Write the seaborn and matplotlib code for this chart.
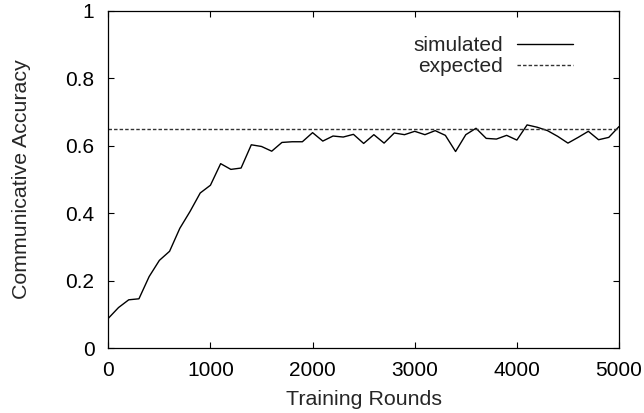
import numpy as np
import pandas as pd
import matplotlib
matplotlib.use("Agg")
import matplotlib.pyplot as plt
import seaborn as sns

rounds = list(range(0, 5001, 100))
simulated = [0.088, 0.120, 0.143, 0.146, 0.212, 0.260, 0.287, 0.355, 0.405, 0.460,
             0.483, 0.547, 0.530, 0.534, 0.603, 0.598, 0.584, 0.610, 0.612, 0.612,
             0.639, 0.614, 0.629, 0.626, 0.634, 0.607, 0.633, 0.608, 0.638, 0.633,
             0.643, 0.633, 0.645, 0.631, 0.583, 0.633, 0.652, 0.622, 0.620, 0.631,
             0.617, 0.662, 0.655, 0.645, 0.628, 0.608, 0.625, 0.643, 0.618, 0.625,
             0.657]
expected = 0.65
x_ticks = [0, 1000, 2000, 3000, 4000, 5000]
y_ticks = [0, 0.2, 0.4, 0.6, 0.8, 1]
y_tick_labels = ["0", "0.2", "0.4", "0.6", "0.8", "1"]

sns.set_theme(style="ticks")
plt.rcParams['font.family'] = ['Liberation Sans', 'DejaVu Sans']

df = pd.DataFrame({"Training Rounds": rounds, "Communicative Accuracy": simulated})

fig = plt.figure(figsize=(6.44, 4.13), dpi=100)
ax = fig.add_axes([108.3 / 644, (413 - 348) / 413, (619 - 108.3) / 644, 337 / 413])

sns.lineplot(data=df, x="Training Rounds", y="Communicative Accuracy", ax=ax,
             color="black", linewidth=1.0, label="simulated")
ax.axhline(expected, color="#333333", linewidth=1.0, dashes=(2.5, 1.5), label="expected")

ax.set_xlim(0, 5000)
ax.set_ylim(0, 1)
ax.set_xticks(x_ticks)
ax.set_yticks(y_ticks)
ax.set_yticklabels(y_tick_labels)
ax.tick_params(direction="in", length=4, width=0.8, top=True, right=True,
               labelsize=15, colors="black")
ax.tick_params(axis="x", pad=9.5)
ax.tick_params(axis="y", pad=10)
for s in ax.spines.values():
    s.set_linewidth(0.9)
    s.set_color("black")
ax.set_xlabel("Training Rounds", fontsize=15.4)
ax.set_ylabel("Communicative Accuracy", fontsize=15.4)
ax.xaxis.set_label_coords(0.5, (348 - 390) / 337)
ax.yaxis.set_label_coords((31 - 108.3) / 510.7, 0.5)

leg = ax.legend(loc="upper right", bbox_to_anchor=((573 - 108.3) / 510.7, (348 - 36) / 337),
                frameon=False, markerfirst=False, fontsize=15, handlelength=2.7,
                handletextpad=0.65, labelspacing=0.1, borderaxespad=0, borderpad=0)

fig.savefig("out.png", dpi=100)
